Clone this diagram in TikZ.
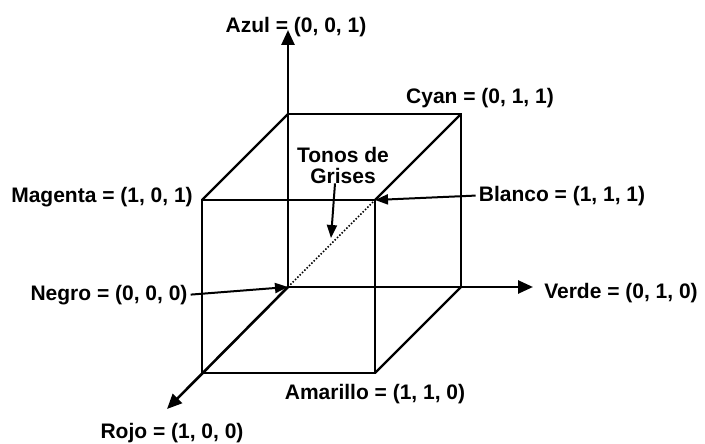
\documentclass[tikz,border=0pt]{standalone}
\usepackage{fontspec}
\setmainfont{Liberation Sans}
\usetikzlibrary{arrows.meta}
\begin{document}
\begin{tikzpicture}[x=1pt,y=-1pt,
  lbl/.style={font=\fontsize{21}{21}\selectfont\bfseries, inner sep=0pt, anchor=base},
  cubeedge/.style={line width=2.2pt, line join=miter},
  axisline/.style={line width=2.6pt, -{Triangle[length=15pt,width=13pt]}},
  pointer/.style={line width=2pt, -{Triangle[length=13pt,width=10pt]}},
  grayline/.style={line width=1.5pt, dash pattern=on 1.5pt off 1.8pt}]
\useasboundingbox (0,0) rectangle (705,444);
% cube vertices
\coordinate (O) at (288,287);
\coordinate (G) at (461,287);
\coordinate (Z) at (288,114);
\coordinate (C) at (461,114);
\coordinate (R) at (202,373);
\coordinate (Y) at (375,373);
\coordinate (M) at (202,200);
\coordinate (W) at (375,200);
% axis tips
\coordinate (bt) at (288,30);
\coordinate (gt) at (533,287);
\coordinate (rt) at (167,409);
\coordinate (tg) at (331,238);
% cube edges
\draw[cubeedge] (Z) -- (C) -- (G);
\draw[cubeedge] (Z) -- (M);
\draw[cubeedge] (C) -- (W);
\draw[cubeedge] (M) -- (W) -- (Y) -- (R) -- cycle;
\draw[cubeedge] (Y) -- (G);
% axes
\draw[axisline] (O) -- (bt);
\draw[axisline] (O) -- (gt);
\draw[axisline] (O) -- (rt);
% gray diagonal
\draw[grayline] (O) -- (W);
% labels
\node[lbl] (azul) at (296,33) {Azul = (0, 0, 1)};
\node[lbl] (cyan) at (480,103) {Cyan = (0, 1, 1)};
\node[lbl] (blanco) at (562,201) {Blanco = (1, 1, 1)};
\node[lbl] (magenta) at (102,202) {Magenta = (1, 0, 1)};
\node[lbl] (negro) at (109,300) {Negro = (0, 0, 0)};
\node[lbl] (verde) at (621,298) {Verde = (0, 1, 0)};
\node[lbl] (amarillo) at (375,399) {Amarillo = (1, 1, 0)};
\node[lbl] (rojo) at (172,438) {Rojo = (1, 0, 0)};
\node[lbl, anchor=center, align=center] (tonos) at (343,165) {Tonos de\\Grises};
% pointers
\draw[pointer] ([xshift=3pt]negro.east) -- (O);
\draw[pointer] ([xshift=-3pt]blanco.west) -- (W);
\draw[pointer] ([xshift=-8pt]tonos.south) -- (tg);
\end{tikzpicture}
\end{document}
